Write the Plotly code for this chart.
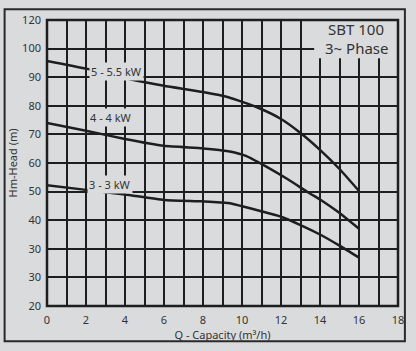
import plotly.graph_objects as go

# Data (Q in m3/h, head in axis coordinates of the chart)
q_55 = [0, 2, 4.25, 6, 8, 9.3, 10.8, 12, 13, 14, 15, 16]
h_55 = [105.7, 103.0, 99.3, 97.0, 94.8, 93.0, 89.4, 85.4, 80.5, 74.6, 67.9, 60.2]

q_4 = [0, 2, 4, 6, 8, 9.3, 10.2, 11.2, 12.35, 13.4, 14.1, 14.9, 16]
h_4 = [84.0, 81.3, 78.4, 76.0, 75.1, 74.1, 72.5, 68.9, 64.3, 59.7, 56.8, 53.0, 47.0]

q_3 = [0, 2, 4, 6, 8, 9.3, 11, 12, 13, 14, 15, 16]
h_3 = [62.2, 60.6, 59.0, 57.1, 56.6, 56.0, 53.1, 51.2, 48.3, 45.0, 41.1, 36.9]

y_tickvals = [20, 30, 40, 50, 60, 70, 80, 90, 100, 110, 120]
y_ticktext = ["20", "30", "30", "40", "50", "60", "70", "80", "90", "100", "120"]
x_tickvals = [0, 2, 4, 6, 8, 10, 12, 14, 16, 18]

curve_labels = ["5 - 5.5 kW", "4 - 4 kW", "3 - 3 kW"]
label_pos = [(3.55, 102.0), (3.3, 85.8), (3.25, 62.6)]

title_lines = ["SBT 100", "3~ Phase"]
title_y = [116.9, 110.1]

BG = "#dadbdd"
FONT = "Noto Sans"
INK = "#1e1e1e"

fig = go.Figure()
for qs, hs in [(q_55, h_55), (q_4, h_4), (q_3, h_3)]:
    fig.add_trace(go.Scatter(x=qs, y=hs, mode="lines",
                             line=dict(color=INK, width=2.5, shape="spline", smoothing=0.5),
                             showlegend=False, hoverinfo="skip"))

for txt, (x, y) in zip(curve_labels, label_pos):
    fig.add_annotation(x=x, y=y, text=txt, showarrow=False, bgcolor=BG, borderpad=1,
                       font=dict(family=FONT, size=11, color="#333"))

# title box
fig.add_shape(type="rect", xref="x", yref="y", x0=13.7, x1=17.95, y0=106.6, y1=119.8,
              fillcolor=BG, line=dict(width=0), layer="above")
for txt, y in zip(title_lines, title_y):
    fig.add_annotation(x=15.85, y=y, text=txt, showarrow=False, yanchor="middle",
                       font=dict(family=FONT, size=15, color="#333"))

# plot border
fig.add_shape(type="rect", xref="paper", yref="paper", x0=0, x1=1, y0=0, y1=1,
              line=dict(color=INK, width=2.5), layer="above")
# outer frame
fig.add_shape(type="rect", xref="paper", yref="paper", x0=-43/356, x1=1+7/356, y0=-36/292, y1=1+11/292,
              line=dict(color="#2a2a2a", width=2))

fig.update_layout(
    width=416, height=351,
    margin=dict(l=46, r=14, t=14, b=45),
    paper_bgcolor=BG, plot_bgcolor=BG,
    font=dict(family=FONT, size=11, color="#333"),
    xaxis=dict(range=[0, 18], tickvals=x_tickvals, showgrid=True, gridcolor=INK, gridwidth=1.5,
               minor=dict(dtick=1, showgrid=True, gridcolor=INK, gridwidth=1.5),
               zeroline=False, showline=False, ticks="", ticklabelstandoff=6,
               title=dict(text="Q - Capacity (m³/h)", standoff=2, font=dict(size=11)),
               tickfont=dict(size=11)),
    yaxis=dict(range=[20, 120], tickvals=y_tickvals, ticktext=y_ticktext, showgrid=True,
               gridcolor=INK, gridwidth=1.5, zeroline=False, showline=False, ticks="",
               ticklabelstandoff=5,
               title=dict(text="Hm-Head (m)", standoff=2, font=dict(size=11)),
               tickfont=dict(size=11)),
)

fig.write_html("out.html")
